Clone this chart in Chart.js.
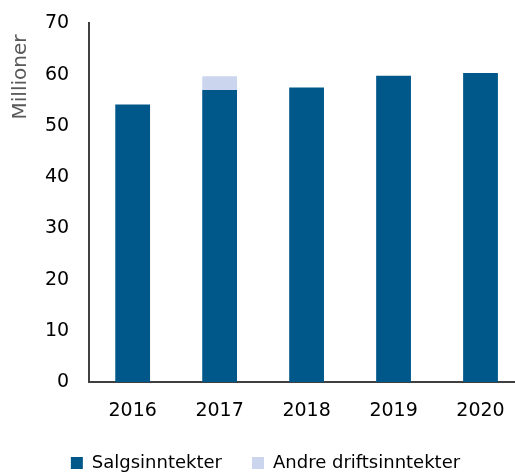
<!DOCTYPE html>
<html>
<head>
<meta charset="utf-8">
<script src="https://cdn.jsdelivr.net/npm/chart.js@4"></script>
<style>
  html, body { margin: 0; padding: 0; background: #fff; overflow: hidden; }
  #wrap { width: 515px; height: 472px; overflow: hidden; position: relative; }
  #box { width: 532px; height: 480px; position: absolute; left: 0; top: -8px; }
</style>
</head>
<body>
<div id="wrap"><div id="box"><canvas id="c"></canvas></div></div>
<script>
const years = ['2016', '2017', '2018', '2019', '2020'];
const salgsinntekter = [54.2, 57.0, 57.5, 59.8, 60.3];
const andreDriftsinntekter = [0, 2.7, 0, 0, 0];
const yTicks = [0, 10, 20, 30, 40, 50, 60, 70];
const yTitle = 'Millioner';

const FONT = "'DejaVu Sans', sans-serif";

const yTitlePlugin = {
  id: 'yTitle',
  afterDraw(chart) {
    const ctx = chart.ctx;
    ctx.save();
    ctx.translate(21, 85);
    ctx.rotate(-Math.PI / 2);
    ctx.fillStyle = '#595959';
    ctx.font = "20px " + FONT;
    ctx.textAlign = 'center';
    ctx.textBaseline = 'middle';
    ctx.fillText(yTitle, 0, 0);
    ctx.restore();
  }
};

// tighten the legend block and shift it to the reference position
const LEGEND_SHRINK = 27, LEGEND_DX = -9, LEGEND_DY = -15;
const legendTweak = {
  id: 'legendTweak',
  afterInit(chart) {
    const lg = chart.legend;
    if (!lg || lg._tweaked) return;
    lg._tweaked = true;
    const fit = lg.fit, draw = lg.draw;
    lg.fit = function () { fit.call(this); this.height -= LEGEND_SHRINK; };
    lg.draw = function () {
      const ctx = this.ctx;
      const h = this.height, b = this.bottom;
      this.height = h + LEGEND_SHRINK;
      this.bottom = b + LEGEND_SHRINK;
      ctx.save();
      ctx.translate(LEGEND_DX, LEGEND_DY);
      draw.call(this);
      ctx.restore();
      this.height = h;
      this.bottom = b;
    };
  }
};

new Chart(document.getElementById('c'), {
  type: 'bar',
  data: {
    labels: years,
    datasets: [
      { label: 'Salgsinntekter', data: salgsinntekter, backgroundColor: '#00578a', borderWidth: 0 },
      { label: 'Andre driftsinntekter', data: andreDriftsinntekter, backgroundColor: '#cbd6ee', borderWidth: 0 }
    ]
  },
  options: {
    responsive: true,
    maintainAspectRatio: false,
    animation: false,
    layout: { padding: { left: 25, right: 8, top: 4, bottom: 2 } },
    datasets: { bar: { barPercentage: 0.4, categoryPercentage: 1 } },
    plugins: {
      legend: {
        position: 'bottom',
        labels: {
          boxWidth: 12, boxHeight: 12, padding: 30,
          color: '#000',
          font: { family: FONT, size: 18 }
        }
      },
      tooltip: { enabled: false }
    },
    scales: {
      x: {
        stacked: true,
        grid: { display: false, drawTicks: false },
        border: { display: true, color: '#404040', width: 2 },
        ticks: { color: '#000', padding: 17, font: { family: FONT, size: 19 } }
      },
      y: {
        stacked: true,
        min: 0, max: 70,
        afterBuildTicks(scale) { scale.ticks = yTicks.map(v => ({ value: v })); },
        grid: { display: false, drawTicks: false },
        border: { display: true, color: '#404040', width: 2 },
        ticks: { color: '#000', padding: 20, font: { family: FONT, size: 19 } }
      }
    }
  },
  plugins: [yTitlePlugin, legendTweak]
});
</script>
</body>
</html>
